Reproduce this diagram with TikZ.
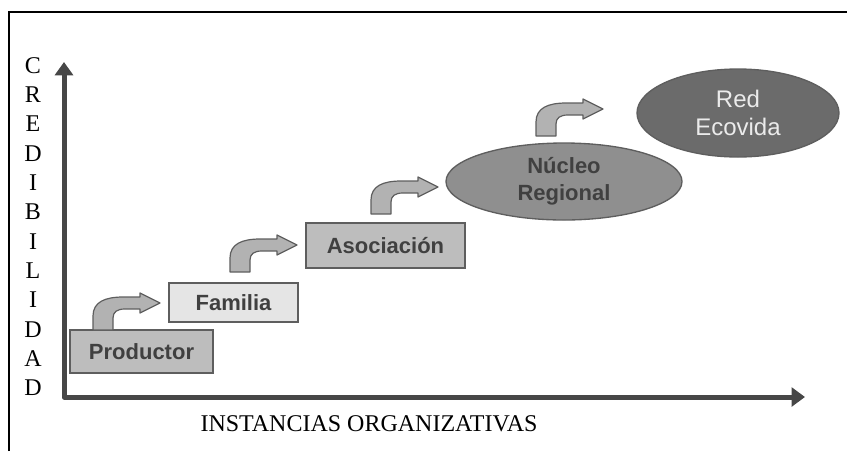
\documentclass[tikz,border=0pt]{standalone}
\usepackage{fontspec}
\setmainfont{Liberation Serif}
\setsansfont{Liberation Sans}
\usepackage{tikz}
\usetikzlibrary{arrows.meta,shapes.geometric}

\definecolor{ejegris}{HTML}{474747}
\definecolor{bordegris}{HTML}{5E5E5E}

\tikzset{
	box/.style = {draw=bordegris, line width=1pt, inner sep=0pt, font=\sffamily\bfseries\fontsize{16.5}{19}\selectfont, text=black!75},
	bubble/.style = {ellipse, draw=bordegris, line width=1pt, inner sep=0pt, align=center},
	axis/.style = {ejegris, line width=3.75pt, line join=round},
	bent/.pic = {
		\draw[draw=bordegris, fill=black!30, line width=0.9pt, line join=round]
		(0,0) -- (0,-14) .. controls (0,-28) and (12,-33) .. (30,-33) -- (47,-33) -- (47,-37) -- (67,-27)
		-- (47,-17) -- (47,-21) -- (32,-21) .. controls (24,-21) and (20,-18) .. (20,-12) -- (20,0) -- cycle;
	}
}

\begin{document}
\begin{tikzpicture}[x=0.75pt, y=-0.75pt]
		\useasboundingbox (0,0) rectangle (847,451);
		% marco
		\draw[line width=1.8pt] (9,451) -- (9,12) -- (847,12);
		% ejes
		\coordinate (o) at (64,397);
		\coordinate (ytip) at (64,62);
		\coordinate (xtip) at (805,397);
		\draw[axis, {Triangle[length=10pt,width=13.5pt]}-{Triangle[length=10pt,width=14pt]}] (ytip) -- (o) -- (xtip);
		\node[anchor=north, inner sep=0pt, align=center, font=\fontsize{18}{22}\selectfont] (cred) at (33,57)
			{C\\R\\E\\D\\I\\B\\I\\L\\I\\D\\A\\D};
		\node[inner sep=0pt, font=\fontsize{18}{21}\selectfont] (inst) at (369,424) {INSTANCIAS ORGANIZATIVAS};
		% escalones
		\node[box, fill=black!26, minimum width=107.25pt, minimum height=32.25pt] (prod) at (141.5,351.5) {Productor};
		\node[box, fill=black!10, minimum width=96.75pt, minimum height=29.25pt] (fam) at (233.5,302.5) {Familia};
		\node[box, fill=black!26, minimum width=119.25pt, minimum height=33.75pt] (asoc) at (385.5,245.5) {Asociaci\'on};
		\node[bubble, fill=black!44, text=black!75, font=\sffamily\bfseries\fontsize{16.5}{20}\selectfont,
			minimum width=177pt, minimum height=57.75pt] (nucleo) at (564,181.5) {N\'ucleo\\Regional};
		\node[bubble, fill=black!58, text=black!8, font=\sffamily\fontsize{18}{21}\selectfont,
			minimum width=151.5pt, minimum height=66pt] (red) at (738,113) {Red\\Ecovida};
		% flechas
		\pic at (93,330) {bent};
		\pic at (230,272) {bent};
		\pic at (371,214) {bent};
		\pic at (536,136) {bent};
\end{tikzpicture}
\end{document}
